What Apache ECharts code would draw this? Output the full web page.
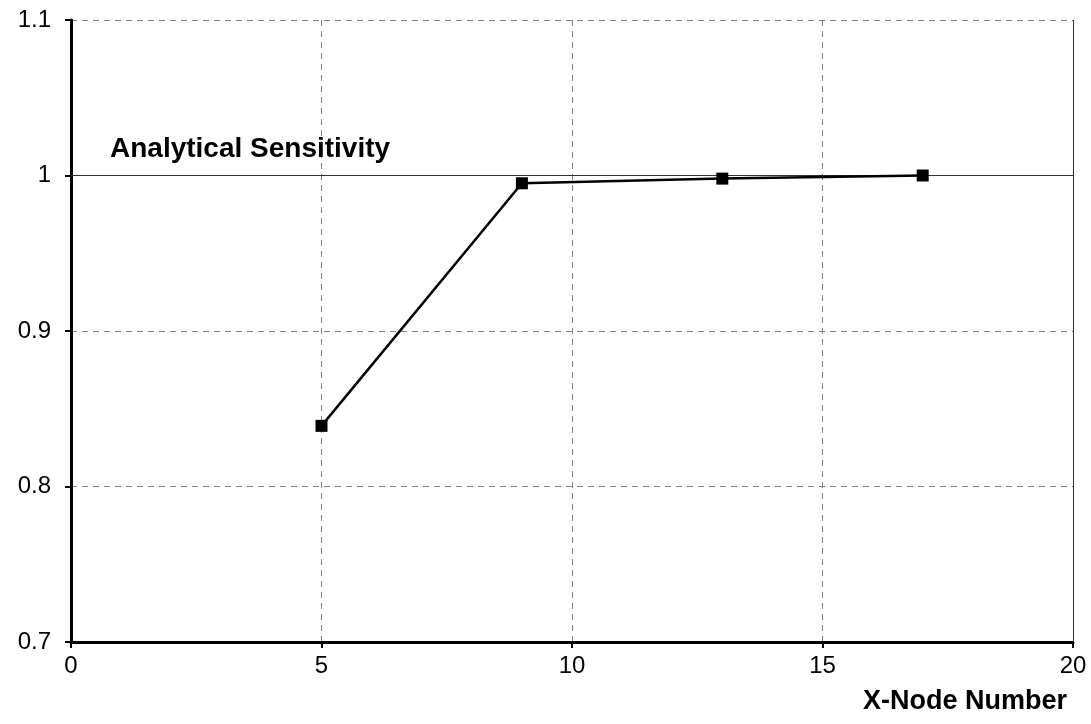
<!DOCTYPE html>
<html><head><meta charset="utf-8">
<script src="https://cdn.jsdelivr.net/npm/echarts@6/dist/echarts.min.js"></script>
<style>html,body{margin:0;padding:0;background:#fff}#c{width:1091px;height:724px}</style>
</head><body><div id="c"></div>
<script>
const xNodes = [5, 9, 13, 17];
const sensitivity = [0.839, 0.995, 0.998, 1.0];
const analyticalValue = 1.0;
const xTicks = [0, 5, 10, 15, 20];
const yTicks = [0.7, 0.8, 0.9, 1.0, 1.1];
const xTitle = 'X-Node Number';
const refLabel = 'Analytical Sensitivity';

const chart = echarts.init(document.getElementById('c'));
const font = '"Liberation Sans", Arial, sans-serif';
chart.setOption({
  animation: false,
  backgroundColor: '#fff',
  grid: {left: 71, right: 18, top: 20, bottom: 82},
  xAxis: {
    type: 'value', min: xTicks[0], max: xTicks[xTicks.length - 1], interval: 5,
    axisLine: {show: true, onZero: false, lineStyle: {color: '#000', width: 3}},
    axisTick: {show: true, length: 6, lineStyle: {color: '#000', width: 2}},
    axisLabel: {color: '#000', fontSize: 24, fontFamily: font, margin: 12,
      formatter: v => String(v)},
    splitLine: {show: true, lineStyle: {color: '#808080', type: [6, 5], width: 1}}
  },
  yAxis: {
    type: 'value', min: yTicks[0], max: yTicks[yTicks.length - 1], interval: 0.1,
    axisLine: {show: true, onZero: false, lineStyle: {color: '#000', width: 3}},
    axisTick: {show: true, length: 6, lineStyle: {color: '#000', width: 2}},
    axisLabel: {color: '#000', fontSize: 24, fontFamily: font, margin: 20,
      formatter: v => String(Math.round(v * 10) / 10)},
    splitLine: {show: true, lineStyle: {color: '#808080', type: [6, 5], width: 1}}
  },
  series: [{
    type: 'line',
    data: xNodes.map((x, i) => [x, sensitivity[i]]),
    symbol: 'rect', symbolSize: 12,
    lineStyle: {color: '#000', width: 2.5},
    itemStyle: {color: '#000'},
    z: 5,
    markLine: {
      silent: true, symbol: 'none',
      data: [
        [{coord: [0, analyticalValue]}, {coord: [20, analyticalValue]}],
        [{coord: [20, 0.7]}, {coord: [20, 1.1]}]
      ],
      lineStyle: {color: '#333', type: 'solid', width: 1},
      label: {show: false}
    }
  }]
});
const p = chart.convertToPixel({gridIndex: 0}, [0, analyticalValue]);
chart.setOption({
  graphic: [{
    type: 'text', right: 24, top: 688,
    style: {text: xTitle, fill: '#000', font: 'bold 27px ' + font}
  }, {
    type: 'text', x: p[0] + 39, y: p[1] - 12,
    style: {text: refLabel, fill: '#000', font: 'bold 28px ' + font, verticalAlign: 'bottom'}
  }]
});
</script></body></html>
